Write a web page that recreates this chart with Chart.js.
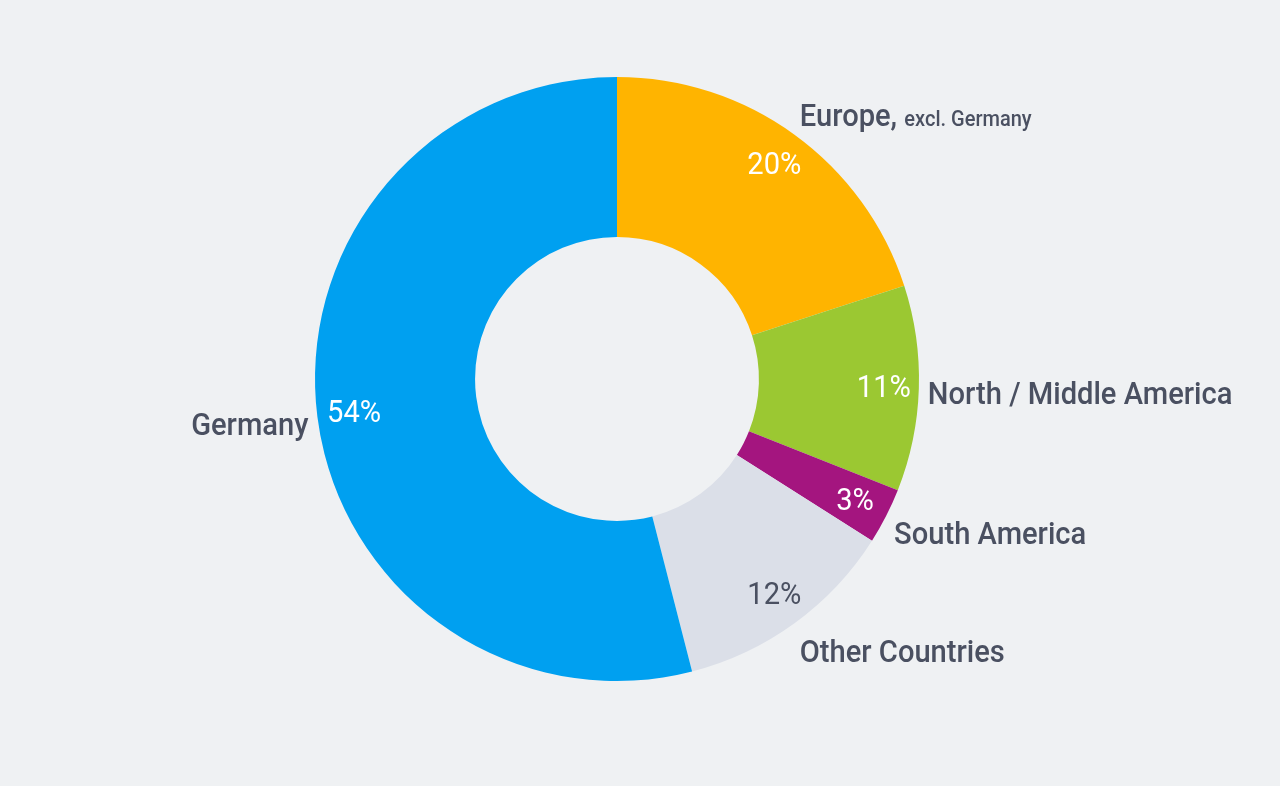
<!DOCTYPE html>
<html>
<head>
<meta charset="utf-8">
<script src="https://cdn.jsdelivr.net/npm/chart.js@4.4.1/dist/chart.umd.min.js"></script>
<style>
  html, body { margin: 0; padding: 0; background: #eff1f3; }
  #wrap { width: 1280px; height: 786px; }
</style>
</head>
<body>
<div id="wrap"><canvas id="regions" width="1280" height="786"></canvas></div>
<script>
// shares by region, clockwise from 12 o'clock
const regions = ['Europe,', 'North / Middle America', 'South America', 'Other Countries', 'Germany'];
const subLabels = ['excl. Germany', '', '', '', ''];
const shares = [20, 11, 3, 12, 54];
const pctLabels = ['20%', '11%', '3%', '12%', '54%'];
const colors = ['#ffb400', '#9bc832', '#a4157f', '#dbdfe8', '#00a0f0'];
const pctColors = ['#ffffff', '#ffffff', '#ffffff', '#4a5061', '#ffffff'];

const textColor = '#4a5061';
const fontFam = 'Roboto, "Noto Sans", sans-serif';
const squeeze = 0.91; // narrow the glyphs a bit, the original face is condensed

// draw text squeezed horizontally around its anchor
function narrowText(ctx, txt, x, y) {
  ctx.save();
  ctx.translate(x, y);
  ctx.scale(squeeze, 1);
  ctx.fillText(txt, 0, 0);
  ctx.restore();
}

const labelPlugin = {
  id: 'sliceLabels',
  afterDatasetsDraw(chart) {
    const ctx = chart.ctx;
    const meta = chart.getDatasetMeta(0);
    ctx.save();
    meta.data.forEach((arc, i) => {
      const p = arc.getProps(['x', 'y', 'startAngle', 'endAngle', 'outerRadius', 'innerRadius'], true);
      const mid = (p.startAngle + p.endAngle) / 2;
      const dx = Math.cos(mid), dy = Math.sin(mid);

      // percentage inside the ring, near the outer edge
      const rp = p.outerRadius - 36;
      ctx.font = '400 32px ' + fontFam;
      ctx.fillStyle = pctColors[i];
      ctx.textAlign = 'center';
      ctx.textBaseline = 'middle';
      narrowText(ctx, pctLabels[i], p.x + dx * rp + 1, p.y + dy * rp + 2);

      // region name outside the ring
      const ro = p.outerRadius + 9;
      const lx = p.x + dx * ro;
      const ly = p.y + dy * ro + dy * 20;
      const base = ly + 15;
      ctx.fillStyle = textColor;
      ctx.textBaseline = 'alphabetic';
      ctx.font = '500 32px ' + fontFam;
      if (dx >= 0) {
        ctx.textAlign = 'left';
        narrowText(ctx, regions[i], lx, base);
        if (subLabels[i]) {
          const w = ctx.measureText(regions[i] + ' ').width * squeeze;
          ctx.font = '500 22px ' + fontFam;
          narrowText(ctx, subLabels[i], lx + w, base);
        }
      } else {
        ctx.textAlign = 'right';
        narrowText(ctx, regions[i], lx, base);
      }
    });
    ctx.restore();
  }
};

new Chart(document.getElementById('regions'), {
  type: 'doughnut',
  data: {
    labels: regions,
    datasets: [{
      data: shares,
      backgroundColor: colors,
      borderWidth: 0
    }]
  },
  options: {
    responsive: false,
    animation: false,
    cutout: '47%',
    layout: { padding: { top: 77, bottom: 105, left: 0, right: 46 } },
    plugins: {
      legend: { display: false },
      tooltip: { enabled: false }
    }
  },
  plugins: [labelPlugin]
});
</script>
</body>
</html>
